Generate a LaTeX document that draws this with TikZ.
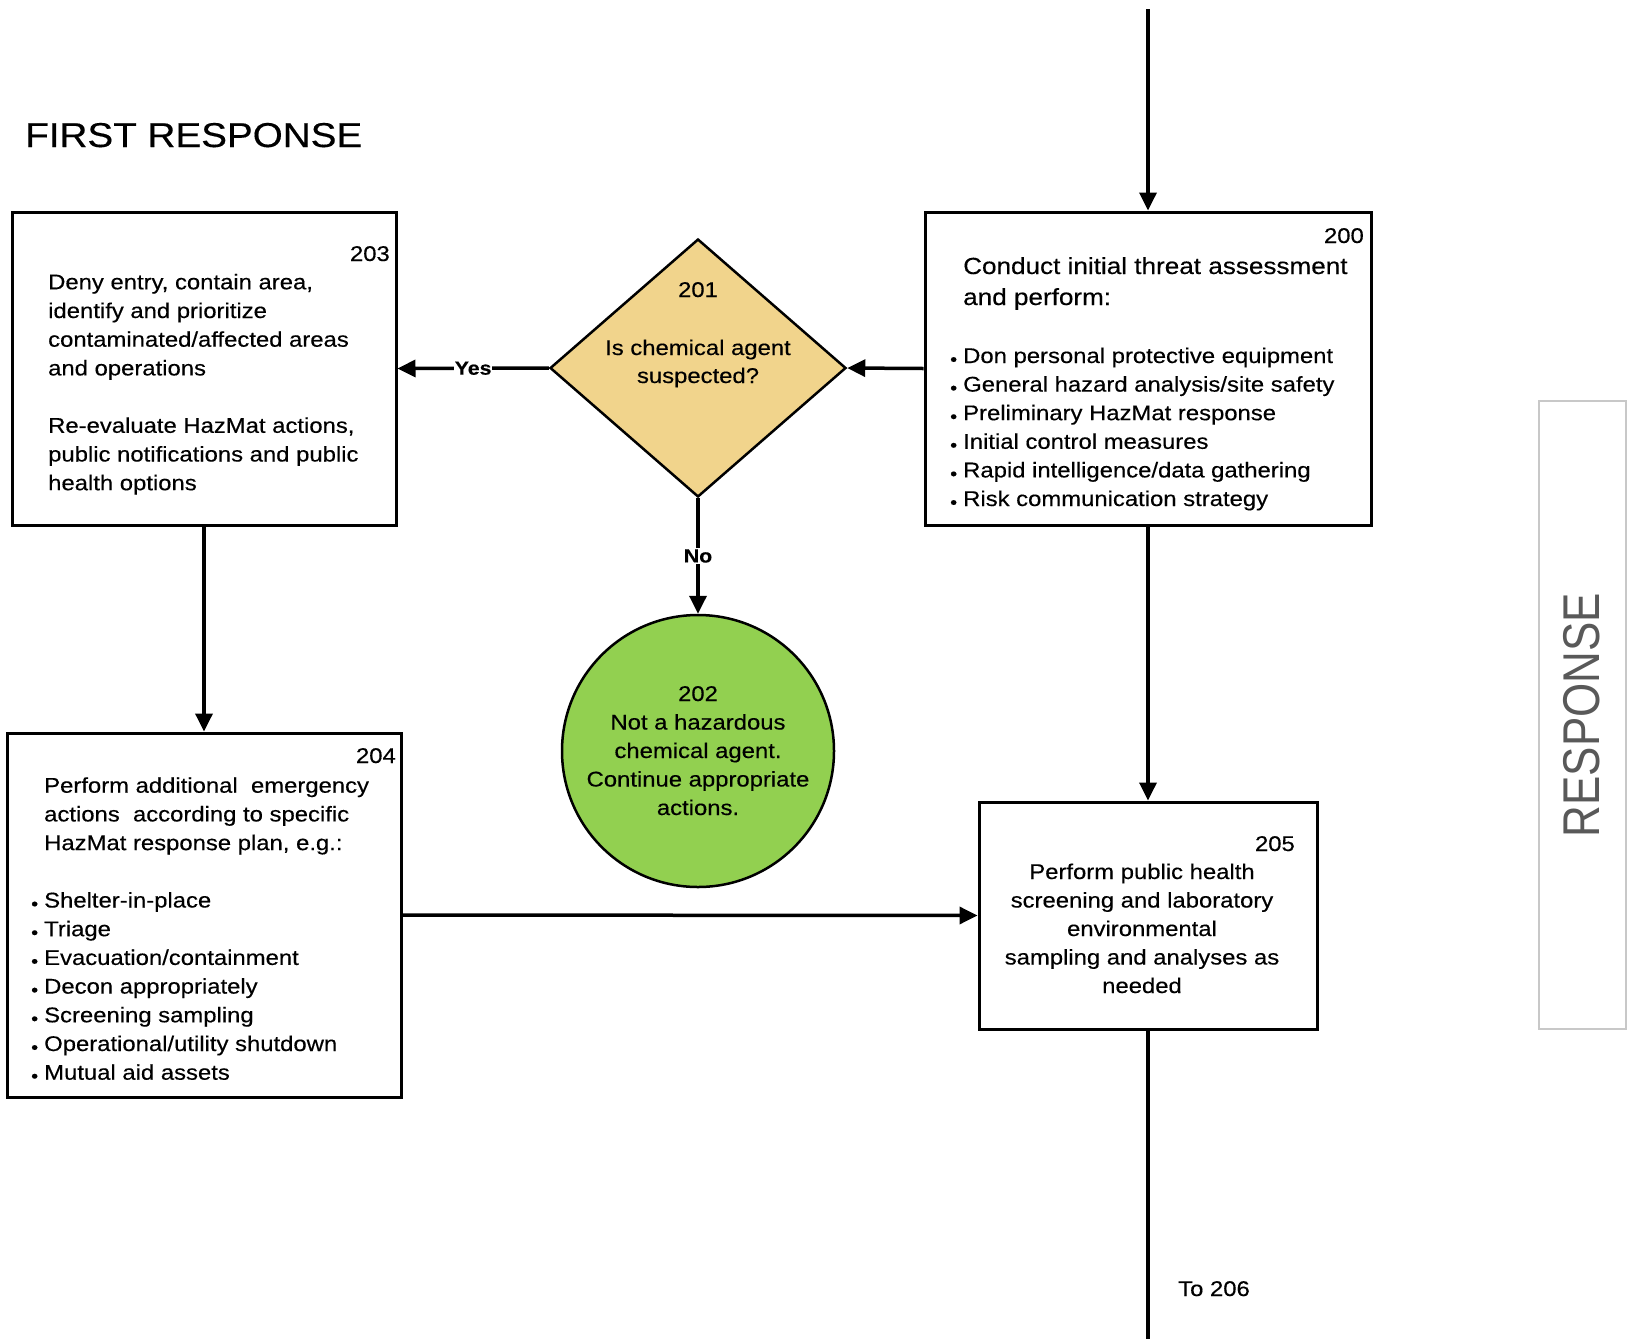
\documentclass[tikz,border=0pt]{standalone}
\usepackage{fontspec}
\setmainfont{Liberation Sans}[FakeStretch=1.12, FakeBold=0.35]
\newfontfamily\respfont{Liberation Sans}[FakeStretch=0.85]
\usetikzlibrary{arrows.meta,shapes.geometric}

\definecolor{decision}{HTML}{F1D48C}
\definecolor{okgreen}{HTML}{92D050}
\definecolor{sidegray}{HTML}{C8C8C8}
\definecolor{sidetext}{HTML}{595959}

% multi-line text block whose baseline is that of its first line
\newcommand\lines[2]{\begin{tabular}[t]{@{}#1@{}}#2\end{tabular}}
% hanging bullet in front of a list line
\newcommand\bul{\llap{\raisebox{-2.5pt}{\fontsize{18}{18}\selectfont •}\hspace{6pt}}}

\tikzset{
  box/.style={draw, line width=3pt, rectangle, inner sep=0pt, fill=white},
  body/.style={inner sep=0pt, font=\fontsize{21.3}{28.7}\selectfont},
  num/.style={inner sep=0pt, anchor=base east, font=\fontsize{21.3}{28.7}\selectfont},
  arr/.style={line width=3.5pt, -{Triangle[length=18pt,width=17pt]}},
  plain/.style={line width=3.5pt},
  lbl/.style={fill=white, inner sep=1pt, font=\fontsize{19}{19}\selectfont\bfseries}
}

\begin{document}
\begin{tikzpicture}[x=1pt, y=-1pt]
  \fill[white] (0,0) rectangle (1627,1339);
  \useasboundingbox (0,0) rectangle (1627,1339);

  % heading
  \node[inner sep=0pt, anchor=base west, font=\fontsize{34.5}{40}\selectfont] (title) at (25,147) {FIRST RESPONSE};

  % side band
  \node[draw=sidegray, line width=2pt, minimum width=87pt, minimum height=628pt, inner sep=0pt] (band) at (1582.5,715) {};
  \node[rotate=90, inner sep=0pt, text=sidetext, font=\respfont\fontsize{51.7}{60}\selectfont] (bandtxt) at (1582,715) {RESPONSE};

  % process steps
  \node[box, minimum width=446pt, minimum height=313pt] (s200) at (1148,368.5) {};
  \node[box, minimum width=384pt, minimum height=313pt] (s203) at (204,368.5) {};
  \node[box, minimum width=394pt, minimum height=364pt] (s204) at (204,915) {};
  \node[box, minimum width=338pt, minimum height=227pt] (s205) at (1148,915.5) {};
  \node[draw, fill=decision, line width=2.5pt, diamond, aspect=1.147, inner sep=0pt,
        minimum width=296pt, minimum height=258pt] (s201) at (698,368) {};
  \node[draw, fill=okgreen, line width=2.5pt, circle, inner sep=0pt, minimum size=272pt] (s202) at (698,751) {};

  % step 200
  \node[num] (n200) at (1364,243) {200};
  \node[inner sep=0pt, anchor=base west, font=\fontsize{23.3}{31}\selectfont] (t200a) at (963,274)
    {\lines{l}{Conduct initial threat assessment\\ and perform:}};
  \node[body, anchor=base west] (t200b) at (963,363)
    {\fontsize{21.3}{28.6}\selectfont\lines{l}{%
      \bul Don personal protective equipment\\
      \bul General hazard analysis/site safety\\
      \bul Preliminary HazMat response\\
      \bul Initial control measures\\
      \bul Rapid intelligence/data gathering\\
      \bul Risk communication strategy}};

  % step 201
  \node[num, anchor=base] (n201) at (698,297) {201};
  \node[body, anchor=base] (t201) at (698,355)
    {\fontsize{21.3}{28}\selectfont\lines{c}{Is chemical agent\\ suspected?}};

  % step 202
  \node[body, anchor=base] (t202) at (698,701)
    {\fontsize{21.3}{28.5}\selectfont\lines{c}{202\\ Not a hazardous\\ chemical agent.\\ Continue appropriate\\ actions.}};

  % step 203
  \node[num] (n203) at (390,261) {203};
  \node[body, anchor=base west] (t203) at (48,289.3)
    {\lines{l}{Deny entry, contain area,\\ identify and prioritize\\ contaminated/affected areas\\ and operations\\ \\
      Re-evaluate HazMat actions,\\ public notifications and public\\ health options}};

  % step 204
  \node[num] (n204) at (396,763) {204};
  \node[body, anchor=base west] (t204) at (44,792.7)
    {\lines{l}{Perform additional~ emergency\\ actions~ according to specific\\ HazMat response plan, e.g.:\\ \\
      \bul Shelter-in-place\\
      \bul Triage\\
      \bul Evacuation/containment\\
      \bul Decon appropriately\\
      \bul Screening sampling\\
      \bul Operational/utility shutdown\\
      \bul Mutual aid assets}};

  % step 205
  \node[num] (n205) at (1295,851) {205};
  \node[body, anchor=base] (t205) at (1142,879)
    {\fontsize{21.3}{28.5}\selectfont\lines{c}{Perform public health\\ screening and laboratory\\ environmental\\ sampling and analyses as\\ needed}};

  % connectors
  \coordinate (fromabove) at (1148,9);
  \coordinate (onward) at (1148,1339);
  \draw[arr] (fromabove) -- (s200.north);
  \draw[arr] (s200.west) -- (s201.east);
  \draw[arr] (s201.west) -- node[lbl] {Yes} (s203.east);
  \draw[arr] (s201.south) -- node[lbl] {No} (s202.north);
  \draw[arr] (s203.south) -- (s204.north);
  \draw[arr] (s204.east) -- (s205.west);
  \draw[arr] (s200.south) -- (s205.north);
  \draw[plain] (s205.south) -- (onward);
  \node[inner sep=0pt, anchor=base west, font=\fontsize{21.3}{28.7}\selectfont] (to206) at (1178,1296) {To 206};
\end{tikzpicture}
\end{document}
